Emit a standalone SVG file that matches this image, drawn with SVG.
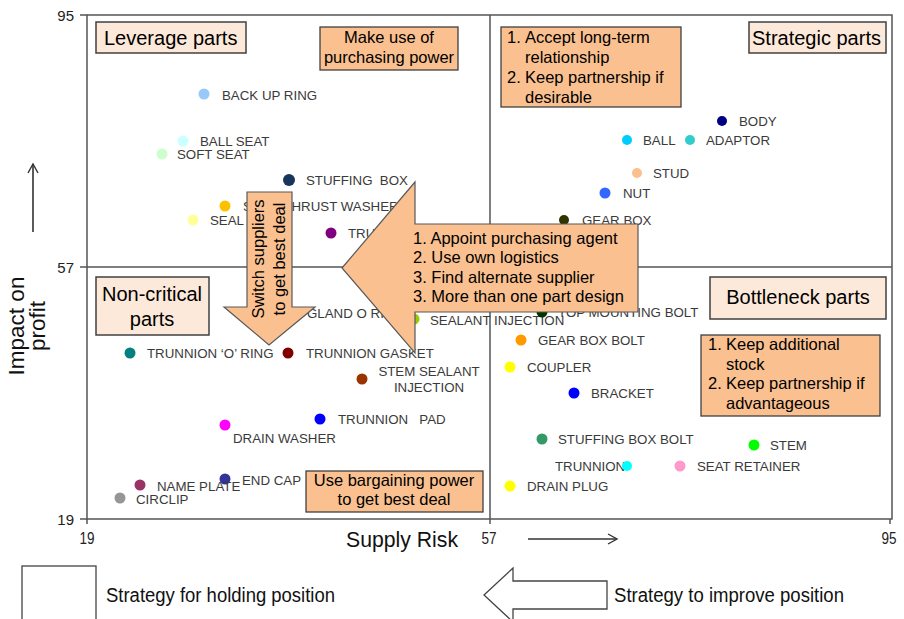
<svg xmlns="http://www.w3.org/2000/svg" width="904" height="619" viewBox="0 0 904 619">
<defs>
<style>
text{font-family:"Liberation Sans",Arial,sans-serif;}
.lbl{font-size:13.3px;fill:#3a3a3a;}
.tick{font-size:15px;fill:#222;}
.btick{font-size:17px;fill:#222;}
.title{font-size:20px;fill:#000;}
.st{font-size:16.5px;fill:#000;}
.leg{font-size:20px;fill:#111;}
.ax{stroke:#555;stroke-width:1.5;fill:none;}
.tbox{fill:#fde9d9;stroke:#404040;stroke-width:1.5;}
.sbox{fill:#fac090;stroke:#404040;stroke-width:1.3;}
.arr{fill:#fac090;stroke:#595959;stroke-width:1.2;}
.conn{stroke:#333;stroke-width:1.6;fill:none;}
</style>
<marker id="open" markerWidth="12" markerHeight="12" refX="10" refY="6" orient="auto" markerUnits="userSpaceOnUse">
<path d="M1,1 L10,6 L1,11" fill="none" stroke="#333" stroke-width="1.4"/>
</marker>
</defs>
<rect width="904" height="619" fill="#fff"/>

<g id="frame">
<rect x="87" y="15" width="805" height="504" class="ax"/>
<line x1="490" y1="15" x2="490" y2="519" class="ax"/>
<line x1="87" y1="267" x2="892" y2="267" class="ax"/>
<line x1="80" y1="15" x2="87" y2="15" class="ax"/>
<line x1="80" y1="267" x2="87" y2="267" class="ax"/>
<line x1="80" y1="519" x2="87" y2="519" class="ax"/>
<line x1="87" y1="519" x2="87" y2="524" class="ax"/>
<line x1="490" y1="519" x2="490" y2="524" class="ax"/>
<line x1="890" y1="519" x2="890" y2="524" class="ax"/>
<text class="tick" x="74" y="21" text-anchor="end">95</text>
<text class="tick" x="74" y="273" text-anchor="end">57</text>
<text class="tick" x="74" y="525" text-anchor="end">19</text>
<text class="btick" x="87" y="544" text-anchor="middle" textLength="15" lengthAdjust="spacingAndGlyphs">19</text>
<text class="btick" x="489" y="544" text-anchor="middle" textLength="15" lengthAdjust="spacingAndGlyphs">57</text>
<text class="btick" x="889" y="544" text-anchor="middle" textLength="15" lengthAdjust="spacingAndGlyphs">95</text>
<text x="346" y="547" font-size="22" fill="#111" textLength="112" lengthAdjust="spacingAndGlyphs">Supply Risk</text>
<text transform="translate(24,326) rotate(-90)" text-anchor="middle" font-size="22.5" fill="#111">Impact on</text>
<text transform="translate(45,326) rotate(-90)" text-anchor="middle" font-size="22.5" fill="#111">profit</text>
</g>

<g id="connectors">
<line x1="528" y1="539" x2="617" y2="539" class="conn" marker-end="url(#open)"/>
<line x1="33" y1="232" x2="33" y2="164" class="conn" marker-end="url(#open)"/>
</g>

<g id="parts">
<g id="back-up-ring"><circle cx="204" cy="94" r="5.5" fill="#99c9f9"/><text class="lbl" x="222" y="99.5">BACK UP RING</text></g>
<g id="ball-seat"><circle cx="183" cy="141" r="5.5" fill="#ccffff"/><text class="lbl" x="200" y="146">BALL SEAT</text></g>
<g id="soft-seat"><circle cx="162" cy="154" r="5.5" fill="#ccffcc"/><text class="lbl" x="177" y="159">SOFT SEAT</text></g>
<g id="stuffing-box"><circle cx="289" cy="180" r="6" fill="#17365d"/><text class="lbl" x="306" y="185" xml:space="preserve">STUFFING  BOX</text></g>
<g id="stem-thrust-washer"><circle cx="225" cy="206" r="5.5" fill="#ffc000"/><text class="lbl" x="243" y="211">STEM THRUST WASHER</text></g>
<g id="seal-rings"><circle cx="193" cy="220" r="5.5" fill="#ffff99"/><text class="lbl" x="210" y="225">SEAL RINGS</text></g>
<g id="trunnion-top"><circle cx="331" cy="233" r="5.5" fill="#800080"/><text class="lbl" x="348" y="238">TRUNNION</text></g>

<g id="body"><circle cx="722" cy="121" r="5" fill="#000080"/><text class="lbl" x="739" y="126">BODY</text></g>
<g id="ball"><circle cx="627" cy="140" r="5" fill="#00ccff"/><text class="lbl" x="643" y="145">BALL</text></g>
<g id="adaptor"><circle cx="690" cy="140" r="5" fill="#33cccc"/><text class="lbl" x="706" y="145">ADAPTOR</text></g>
<g id="stud"><circle cx="637" cy="173" r="5" fill="#fac090"/><text class="lbl" x="653" y="178">STUD</text></g>
<g id="nut"><circle cx="605" cy="193" r="5.5" fill="#3366ff"/><text class="lbl" x="623" y="198">NUT</text></g>
<g id="gear-box"><circle cx="564" cy="220" r="5" fill="#333300"/><text class="lbl" x="582" y="225">GEAR BOX</text></g>

<g id="gland-o-ring"><circle cx="290" cy="313" r="5.5" fill="#808000"/><text class="lbl" x="307" y="318">GLAND O RING</text></g>
<g id="sealant-injection"><circle cx="414" cy="319" r="5.5" fill="#99cc00"/><text class="lbl" x="430" y="324.5">SEALANT INJECTION</text></g>
<g id="trunnion-o-ring"><circle cx="130" cy="353" r="5.5" fill="#008080"/><text class="lbl" x="147" y="358">TRUNNION ‘O’ RING</text></g>
<g id="trunnion-gasket"><circle cx="288" cy="353" r="5.5" fill="#800000"/><text class="lbl" x="306" y="358">TRUNNION GASKET</text></g>
<g id="stem-sealant-injection"><circle cx="362" cy="379" r="5.5" fill="#993300"/><text class="lbl" x="429" y="376" text-anchor="middle">STEM SEALANT</text><text class="lbl" x="429" y="392" text-anchor="middle">INJECTION</text></g>
<g id="trunnion-pad"><circle cx="320" cy="419" r="5.5" fill="#0000ff"/><text class="lbl" x="338" y="424" xml:space="preserve">TRUNNION   PAD</text></g>
<g id="drain-washer"><circle cx="225" cy="425" r="5.5" fill="#ff00ff"/><text class="lbl" x="233" y="443">DRAIN WASHER</text></g>
<g id="end-cap"><circle cx="225" cy="479" r="5.5" fill="#333399"/><text class="lbl" x="242" y="485">END CAP</text></g>
<g id="name-plate"><circle cx="140" cy="485" r="5.5" fill="#993366"/><text class="lbl" x="157" y="491">NAME PLATE</text></g>
<g id="circlip"><circle cx="120" cy="498" r="5.5" fill="#969696"/><text class="lbl" x="136" y="504">CIRCLIP</text></g>

<g id="top-mounting-bolt"><circle cx="542" cy="312" r="5.5" fill="#003300"/><text class="lbl" x="558" y="317">TOP MOUNTING BOLT</text></g>
<g id="gear-box-bolt"><circle cx="521" cy="340" r="5.5" fill="#ff9900"/><text class="lbl" x="538" y="345">GEAR BOX BOLT</text></g>
<g id="coupler"><circle cx="510" cy="367" r="5.5" fill="#ffff00"/><text class="lbl" x="527" y="372">COUPLER</text></g>
<g id="bracket"><circle cx="574" cy="393" r="5.5" fill="#0000ff"/><text class="lbl" x="591" y="398">BRACKET</text></g>
<g id="stuffing-box-bolt"><circle cx="542" cy="439" r="5.5" fill="#339966"/><text class="lbl" x="558" y="444">STUFFING BOX BOLT</text></g>
<g id="stem"><circle cx="754" cy="445" r="5.5" fill="#00ff00"/><text class="lbl" x="770" y="450">STEM</text></g>
<g id="trunnion-br"><text class="lbl" x="555" y="471">TRUNNION</text><circle cx="627" cy="466" r="5" fill="#00ffff"/></g>
<g id="seat-retainer"><circle cx="680" cy="466" r="5.5" fill="#ff99cc"/><text class="lbl" x="697" y="471">SEAT RETAINER</text></g>
<g id="drain-plug"><circle cx="510" cy="486" r="5.5" fill="#ffff00"/><text class="lbl" x="527" y="491">DRAIN PLUG</text></g>
</g>

<g id="leverage-title"><rect x="96" y="22" width="150" height="31" class="tbox"/><text class="title" x="104" y="45">Leverage parts</text></g>
<g id="strategic-title"><rect x="749" y="22" width="137" height="31" class="tbox"/><text class="title" x="752" y="45">Strategic parts</text></g>
<g id="noncritical-title"><rect x="96" y="277" width="113" height="58" class="tbox"/><text class="title" x="152" y="301" text-anchor="middle">Non-critical</text><text class="title" x="152" y="326" text-anchor="middle">parts</text></g>
<g id="bottleneck-title"><rect x="710" y="277" width="176" height="42" class="tbox"/><text class="title" x="798" y="304" text-anchor="middle">Bottleneck parts</text></g>

<g id="purchasing-power"><rect x="320" y="27" width="138" height="43" class="sbox"/><text class="st" x="389" y="43" text-anchor="middle">Make use of</text><text class="st" x="389" y="63" text-anchor="middle">purchasing power</text></g>
<g id="strategic-strategy"><rect x="501" y="27" width="180" height="80" class="sbox"/>
<text class="st" x="507" y="43">1.</text><text class="st" x="525" y="43">Accept long-term</text>
<text class="st" x="525" y="63">relationship</text>
<text class="st" x="507" y="83">2.</text><text class="st" x="525" y="83">Keep partnership if</text>
<text class="st" x="525" y="103">desirable</text></g>
<g id="bottleneck-strategy"><rect x="701" y="335" width="179" height="81" class="sbox"/>
<text class="st" x="708" y="350">1.</text><text class="st" x="726" y="350">Keep additional</text>
<text class="st" x="726" y="370">stock</text>
<text class="st" x="708" y="389">2.</text><text class="st" x="726" y="389">Keep partnership if</text>
<text class="st" x="726" y="409">advantageous</text></g>
<g id="bargaining-power"><rect x="306" y="471" width="177" height="41" class="sbox"/><text class="st" x="394" y="486" text-anchor="middle">Use bargaining power</text><text class="st" x="394" y="505" text-anchor="middle">to get best deal</text></g>

<g id="switch-suppliers-arrow">
<path d="M247,192 L292,192 L292,307 L315,307 L269,345 L224,307 L247,307 Z" class="arr"/>
<text class="st" transform="translate(264,259) rotate(-90)" text-anchor="middle">Switch suppliers</text>
<text class="st" transform="translate(285,259) rotate(-90)" text-anchor="middle">to get best deal</text>
</g>
<g id="improve-arrow">
<path d="M342,268 L415,182 L415,224 L638,224 L638,312 L415,312 L415,353 Z" class="arr"/>
<text class="st" x="413" y="244">1. Appoint purchasing agent</text>
<text class="st" x="413" y="263">2. Use own logistics</text>
<text class="st" x="413" y="283">3. Find alternate supplier</text>
<text class="st" x="413" y="302">3. More than one part design</text>
</g>

<g id="legend-holding">
<rect x="22" y="566" width="74" height="60" fill="#fff" stroke="#444" stroke-width="1.3"/>
<text class="leg" x="106" y="602" textLength="229" lengthAdjust="spacingAndGlyphs">Strategy for holding position</text>
</g>
<g id="legend-improve">
<path d="M484,595 L513,568 L513,581 L607,581 L607,609 L513,609 L513,622 Z" fill="#fff" stroke="#444" stroke-width="1.3"/>
<text class="leg" x="614" y="602" textLength="230" lengthAdjust="spacingAndGlyphs">Strategy to improve position</text>
</g>
</svg>
